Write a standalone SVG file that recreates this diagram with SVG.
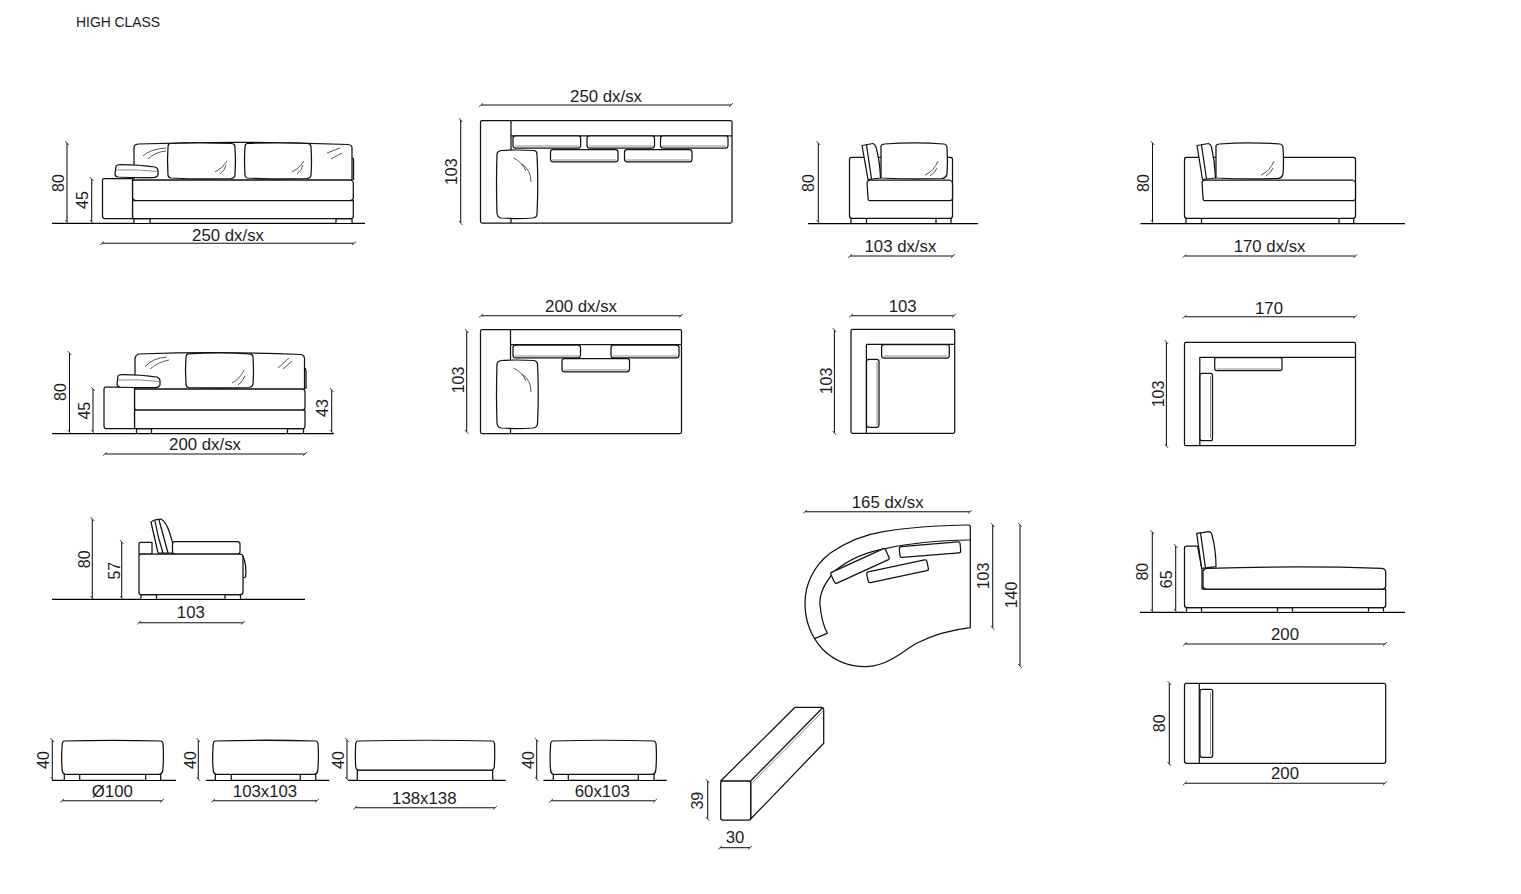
<svg xmlns="http://www.w3.org/2000/svg" width="1521" height="894" viewBox="0 0 1521 894">
<style>
text{font-family:"Liberation Sans",Arial,sans-serif;font-size:16.8px;fill:#1c1c1c}
.m{text-anchor:middle}
.r{font-size:16px}
.s{fill:#fff;stroke:#111;stroke-width:1.25;stroke-linejoin:round}
.n{fill:none;stroke:#111;stroke-width:1.25;stroke-linejoin:round}
.g{fill:none;stroke:#8c8c8c;stroke-width:1}
.c{fill:none;stroke:#444;stroke-width:.9}
.d{fill:none;stroke:#111;stroke-width:1.05;marker-start:url(#t);marker-end:url(#t)}
.f{fill:none;stroke:#000;stroke-width:1.25}
</style>
<defs>
<marker id="t" markerUnits="userSpaceOnUse" markerWidth="10" markerHeight="10" refX="5" refY="5" orient="auto" overflow="visible"><path d="M3 6.800L7 3.200" fill="none" stroke="#333" stroke-width=".9"/></marker>
</defs>
<rect width="1521" height="894" fill="#fff"/>
<text x="76" y="27" style="font-size:13.900px">HIGH CLASS</text>

<g id="connectors">
<path class="d" d="M67 143V222"/><path class="d" d="M91.700 179V222"/><path class="d" d="M102 243.300H354"/>
<path class="d" d="M481 105H731"/><path class="d" d="M460.700 120V223"/>
<path class="d" d="M818.300 143V222"/><path class="d" d="M850 256H953"/>
<path class="d" d="M1152.500 143V222"/><path class="d" d="M1184.500 256H1355.500"/>
<path class="d" d="M69.500 353V432"/><path class="d" d="M93 389V432"/><path class="d" d="M331.700 390V432"/><path class="d" d="M105 454H305"/>
<path class="d" d="M481 315.700H681"/><path class="d" d="M466.700 331V432"/>
<path class="d" d="M851 315.700H954"/><path class="d" d="M834.400 330V433"/>
<path class="d" d="M1184.500 316.700H1355"/><path class="d" d="M1166.400 342V446"/>
<path class="d" d="M92.300 519V598"/><path class="d" d="M121.700 542V598"/><path class="d" d="M139 622.700H243"/>
<path class="d" d="M805 511.700H970"/><path class="d" d="M992.700 525V628"/><path class="d" d="M1020 525V666"/>
<path class="d" d="M1152.300 532V611"/><path class="d" d="M1175.700 546V611"/><path class="d" d="M1185 644H1385"/>
<path class="d" d="M1169.300 683V764"/><path class="d" d="M1185 783.300H1385"/>
<path class="d" d="M52.300 740V779"/><path class="d" d="M62 800.700H162"/>
<path class="d" d="M198.300 740V779"/><path class="d" d="M213 800.700H317"/>
<path class="d" d="M347 740V779"/><path class="d" d="M355 807.700H495"/>
<path class="d" d="M536.700 740V779"/><path class="d" d="M551 800.700H655"/>
<path class="d" d="M707.700 781V819"/><path class="d" d="M720 847.700H750"/>
</g>

<g id="sofa-250-side">
<path class="f" d="M52 223.300H365"/>
<path class="s" d="M134 223V218.500H150V223M336 223V218.500H352V223"/>
<path class="s" d="M134 180V147Q134.500 144 138 144Q240 140.500 348 144.500Q352 145 352 148V180Z"/>
<path class="n" d="M352 158Q354 158 353.500 162V180"/>
<path class="s" d="M132.500 180H350Q353.300 180 353.300 183V198Q353.300 200 350 200.500H135.500Q132.500 200 132.500 197Z"/>
<path class="s" d="M132.500 200.500H353.300V216Q353.300 218.500 351 218.500H132.500Z"/>
<path class="s" d="M104 178.500H132.500V218.500H105Q102.500 218.500 102.500 216V180Q102.500 178.500 104 178.500Z"/>
<path class="s" d="M170 143.500Q200 142 232 143.500Q235 144 235 147Q236 162 235 175Q235 178 231 178.500Q200 179.500 171 178Q168 177.500 168 175Q167 160 168 147Q168 144 170 143.500Z"/>
<path class="s" d="M247 143.500Q278 142 308 143.500Q311 144 311 147Q312 162 311 175Q311 178 307 178.500Q278 179.500 247 178Q245 177.500 245 175Q244 160 245 147Q245 144 247 143.500Z"/>
<path class="s" d="M116 166Q117 164.500 120 164.500Q140 164.500 155 167Q158 168 158 171V175Q157 177.500 153 177.500Q135 178 118 177Q115 176.500 115 174Z"/>
<path class="g" d="M116 170Q138 169 157 171.500"/>
<path class="c" d="M143 156Q150 149 166 148M148 159Q155 152 166 151M215 172Q223 168 227 161M220 174Q225 170 226 165M292 172Q300 168 304 161M297 174Q302 170 303 165M327 153L340 148M331 159L342 153"/>
</g>

<g id="sofa-250-top">
<rect class="s" x="480.500" y="120.500" width="251.500" height="102.500" rx="1.500"/>
<path class="n" d="M511 120.500V223M511 135.800H732"/>
<rect class="s" x="513" y="135.800" width="67.700" height="12.300" rx="2.500"/>
<rect class="s" x="587" y="135.800" width="67.500" height="12.300" rx="2.500"/>
<rect class="s" x="660.500" y="135.800" width="67.500" height="12.300" rx="2.500"/>
<rect class="s" x="550.500" y="149.500" width="67.500" height="12.300" rx="2.500"/>
<rect class="s" x="624.500" y="149.500" width="67.500" height="12.300" rx="2.500"/>
<path class="g" d="M515 146H579M589 146H653M662 146H726M552 160H616M626 160H690"/>
<path class="s" d="M501 150.500Q516 149.500 534 150.500Q537 151 537 154Q538.500 184 537 214Q537 217.500 533 218Q516 219 501 218Q497.500 217.500 497 213Q496 184 497 154Q497.500 151 501 150.500Z"/>
<path class="c" d="M513.500 158Q522 162 526 171M522 164Q531 170 531 182"/>
</g>

<g id="sofa-103-side">
<path class="f" d="M808 223.700H978"/>
<path class="s" d="M851 223V218.300H866.500V223M936 223V218.300H951V223"/>
<path class="s" d="M851.500 157.300H950.500Q952.500 157.300 952.500 159.500V216Q952.500 218.300 950 218.300H852Q849.500 218.300 849.500 216V159.500Q849.500 157.300 851.500 157.300Z"/>
<path class="s" d="M881 145.500Q882 144 884 144Q915 141.500 944 144Q947 144.500 947 148Q948 162 947 174Q946 178 942 178.500Q912 179.500 881 178Z"/>
<path class="s" d="M862 145.500L873 143.500Q875 144 876 147Q880 162 880.500 178L868 179.500Z"/>
<path class="n" d="M866.500 145L871.500 179"/>
<path class="s" d="M867 182.500Q867.500 180 870 180H949Q952.500 180.500 952.500 184V198Q952.500 200.500 950 200.500H869Q868 200 868 198Z"/>
<path class="c" d="M925 175Q934 171 938 161M930 176Q935 173 937 168"/>
</g>

<g id="sofa-170-side">
<path class="f" d="M1140.500 223.700H1405"/>
<path class="s" d="M1186 223V218.300H1201.500V223M1339 223V218.300H1353.700V223"/>
<path class="s" d="M1186.500 157.300H1353.500Q1355.500 157.300 1355.500 159.500V216Q1355.500 218.300 1353 218.300H1187Q1184.500 218.300 1184.500 216V159.500Q1184.500 157.300 1186.500 157.300Z"/>
<path class="s" d="M1216 145.500Q1217 144 1219 144Q1250 141.500 1280 144Q1283 144.500 1283 148Q1284 162 1283 174Q1282 178 1278 178.500Q1247 179.500 1216 178Z"/>
<path class="s" d="M1197 145.500L1208.500 143.500Q1210.500 144 1211.500 147Q1215 162 1215.500 178L1202.500 179.500Z"/>
<path class="n" d="M1201.500 145L1206.500 179"/>
<path class="s" d="M1202 182.500Q1202.500 180 1205 180H1352Q1355.500 180.500 1355.500 184V198Q1355.500 200.500 1353 200.500H1204Q1203 200 1203 198Z"/>
<path class="c" d="M1261 175Q1270 171 1274 161M1266 176Q1271 173 1273 168"/>
</g>

<g id="sofa-200-side">
<path class="f" d="M52 433.700H334"/>
<path class="s" d="M136.500 433V428.500H151.500V433M287.500 433V428.500H303.500V433"/>
<path class="s" d="M135 389V358Q136 354.500 139 354Q220 351 301 354.500Q304 355 304.500 358V389Z"/>
<path class="n" d="M304.500 368Q306 368 306 372V389"/>
<path class="s" d="M134.500 389H302Q305 389.500 305 392V407Q305 410 302 410H136Q134.500 409.500 134.500 407Z"/>
<path class="s" d="M134.500 410H305V426Q305 428.500 303 428.500H134.500Z"/>
<path class="s" d="M106 387H134.500V428.500H106Q104 428.500 104 426V389Q104 387 106 387Z"/>
<path class="s" d="M188 353.800Q219 352 250 353.800Q253 354.500 253 357Q254 372 253 384Q252.500 387 249 387.500Q219 388.500 189 387.500Q186 387 186 384Q185 370 186 357Q186 354.500 188 353.800Z"/>
<path class="s" d="M118 376Q119 374.500 122 374.500Q142 374.500 157 377Q160 378 160 381V385Q159 387.500 155 387.500Q137 388 120 387Q117 386.500 117 384Z"/>
<path class="g" d="M118 380Q140 379 159 381.500"/>
<path class="c" d="M145 367Q152 358 167 357M150 369Q158 362 169 360M232 383Q240 379 244 370M238 385Q243 381 245 376M278 368L289 358M283 369L292 361"/>
</g>

<g id="sofa-200-top">
<rect class="s" x="480.500" y="329.500" width="201" height="104" rx="1.500"/>
<path class="n" d="M510.500 329.500V433.500M510.500 344.500H681.500"/>
<rect class="s" x="513" y="345" width="67.500" height="12.800" rx="2.500"/>
<rect class="s" x="611" y="345" width="68" height="12.800" rx="2.500"/>
<rect class="s" x="562" y="358.500" width="67.500" height="13.300" rx="2.500"/>
<path class="g" d="M515 356H579M613 356H677M564 370H628"/>
<path class="s" d="M501 360.500Q516 359.500 534 360.500Q537 361 537.500 364Q539 394 537.500 424Q537 427.500 533 428Q516 429 501 428Q497.500 427.500 497 423Q496 394 497 364Q497.500 361 501 360.500Z"/>
<path class="c" d="M513.500 368Q522 372 526 381M522 374Q531 380 531 392"/>
</g>

<g id="sofa-103-top">
<rect class="s" x="851" y="329.300" width="103.700" height="104" rx="1.500"/>
<path class="n" d="M954.700 344.300H866.400V433"/>
<rect class="s" x="881.600" y="344.500" width="67.700" height="13.500" rx="2.500"/>
<path class="g" d="M884 356H947"/>
<rect class="s" x="866.500" y="359.300" width="12.500" height="68" rx="2.500"/>
<path class="g" d="M877 362V425"/>
</g>

<g id="sofa-170-top">
<rect class="s" x="1184.500" y="342.300" width="171" height="103.400" rx="1.500"/>
<path class="n" d="M1355.500 357.300H1199.800V445"/>
<rect class="s" x="1214.700" y="357.500" width="67.300" height="13" rx="2"/>
<path class="g" d="M1217 369H1280"/>
<rect class="s" x="1200" y="373.300" width="12.500" height="67.400" rx="2"/>
<path class="g" d="M1210.500 376V438"/>
</g>

<g id="sofa-side-section">
<path class="f" d="M52 599.300H305"/>
<path class="s" d="M141 598.700V594.700H156.500V598.700M225 598.700V594.700H240.500V598.700"/>
<path class="n" d="M243 556Q247 566 245.500 577L243 578"/>
<path class="s" d="M139 554V544Q139 542.300 141 542.300H152V554Z"/>
<path class="s" d="M151 522Q155 519 161 519Q166 522 169 531Q173 543 175 553H158Z"/>
<path class="n" d="M155 521Q158 538 163 553M159 520Q164 538 168 553"/>
<rect class="s" x="172.500" y="541.500" width="67.500" height="12.500" rx="2.500"/>
<path class="s" d="M141 554H240Q243 554 243 557V592Q243 594.700 240 594.700H141Q139 594.700 139 592V556Q139 554 141 554Z"/>
</g>

<g id="sofa-curved-top">
<path class="s" d="M968.300 525C935 525.500 905 528 883.300 531.700C862 535 845 543 830 553.300C815 565 805 583 805 603.300C805 622 812 638 823.300 650C835 661 850 667 866.700 666.700C876 666 883 664 890 660C900 655 908 648 916.700 643.300C933 635 950 630 970.300 627.700V527Q970.300 525 968.300 525Z"/>
<path class="n" d="M970.300 540C940 540.500 910 543 886.700 548.300C870 551 851 558 836 570C825 582 819 594 820 605C821 616 823 625 827.300 633.300L815 638.300"/>
<rect class="s" x="899.500" y="544.200" width="61" height="11" rx="2" transform="rotate(-4.600 930 549.700)"/>
<rect class="s" x="866.800" y="565.800" width="61.500" height="11" rx="2" transform="rotate(-12 897.500 571.300)"/>
<rect class="s" x="830" y="560" width="60" height="12" rx="2" transform="rotate(-24.500 860 566)"/>
</g>

<g id="chaise-side">
<path class="f" d="M1140 612.300H1405"/>
<path class="s" d="M1186.500 611.700V607.700H1201.500V611.700M1277.500 611.700V607.700H1292.500V611.700M1368.500 611.700V607.700H1383.500V611.700"/>
<path class="s" d="M1186.500 546H1197.500L1202 570V589H1385.700V605Q1385.700 607.700 1383 607.700H1187Q1184.500 607.700 1184.500 605V548Q1184.500 546 1186.500 546Z"/>
<path class="s" d="M1196.700 533.300L1209.300 531.700Q1211 532 1212 535Q1216 550 1216 566.700L1201.700 568.300Z"/>
<path class="n" d="M1200.500 533L1205.500 568"/>
<path class="s" d="M1203 571Q1204 568.500 1207 568.300Q1300 565.500 1382 568.300Q1385.700 569 1385.700 572V586Q1385.700 589 1382 589H1206Q1203 588.500 1203 586Z"/>
</g>

<g id="chaise-top">
<rect class="s" x="1184.500" y="683.300" width="201.200" height="80" rx="2"/>
<path class="n" d="M1199.300 683.300V763.300"/>
<rect class="s" x="1200" y="689.300" width="12.700" height="68" rx="2"/>
<path class="g" d="M1210.500 692V755"/>
</g>

<g id="pouf-100">
<path class="f" d="M52 780.300H176"/>
<path class="s" d="M64.300 780V774.300H79.700V780M145.700 780V774.300H160.700V780"/>
<path class="s" d="M64 741Q112 739.500 161 741Q162.700 741.500 163 743.500Q164 758 162.700 771Q162 774.300 159 774.300H66Q63 774.300 62.300 771Q61 758 62.300 743.500Q62.500 741.500 64 741Z"/>
</g>
<g id="pouf-103">
<path class="f" d="M205.700 780.300H329.300"/>
<path class="s" d="M215.300 780V774.300H231.300V780M300.300 780V774.300H315.700V780"/>
<path class="s" d="M215 741Q265 739.500 316 741Q317.700 741.500 318 743.500Q319 758 317.700 771Q317 774.300 314 774.300H217Q214 774.300 213.300 771Q212 758 213.300 743.500Q213.500 741.500 215 741Z"/>
</g>
<g id="pouf-138">
<path class="f" d="M348.300 780.300H505.700"/>
<path class="s" d="M357.300 780V770H492.700V780"/>
<path class="s" d="M357.500 741Q425 739.500 492.500 741Q494.300 741.500 494.500 743.500Q495 756 494.300 767Q493.700 770 491 770H359Q356.300 770 355.700 767Q355 756 355.700 743.500Q356 741.500 357.500 741Z"/>
</g>
<g id="pouf-60">
<path class="f" d="M543.300 780.300H666.700"/>
<path class="s" d="M553.300 780V774.300H568.300V780M638.300 780V774.300H654V780"/>
<path class="s" d="M552.500 741Q603 739.500 654 741Q655.700 741.500 656 743.500Q657 758 655.700 771Q655 774.300 652 774.300H554Q551.500 774.300 550.700 771Q549.500 758 550.700 743.500Q551 741.500 552.500 741Z"/>
</g>
<g id="beam">
<path class="s" d="M720.700 781L795 707.300H821.700Q823.700 707.500 823.700 709.500V743.300L750.700 819V781Z"/>
<path class="n" d="M750.700 781L822.500 708"/>
<path class="g" d="M752.500 782.500L823 711"/>
<rect class="s" x="720.700" y="781" width="30" height="39" rx="2"/>
</g>

<g id="labels">
<text class="m" x="228" y="240.700">250 dx/sx</text>
<text class="m r" transform="translate(64 183) rotate(-90)">80</text>
<text class="m r" transform="translate(88 200) rotate(-90)">45</text>
<text class="m" x="606" y="101.700">250 dx/sx</text>
<text class="m r" transform="translate(457 171.700) rotate(-90)">103</text>
<text class="m" x="900.400" y="251.700">103 dx/sx</text>
<text class="m r" transform="translate(814.400 183) rotate(-90)">80</text>
<text class="m" x="1269.600" y="251.700">170 dx/sx</text>
<text class="m r" transform="translate(1148.500 183) rotate(-90)">80</text>
<text class="m" x="205" y="450">200 dx/sx</text>
<text class="m r" transform="translate(66 392) rotate(-90)">80</text>
<text class="m r" transform="translate(90 410.700) rotate(-90)">45</text>
<text class="m r" transform="translate(328 408) rotate(-90)">43</text>
<text class="m" x="581" y="311.700">200 dx/sx</text>
<text class="m r" transform="translate(464 380) rotate(-90)">103</text>
<text class="m" x="902.700" y="311.700">103</text>
<text class="m r" transform="translate(831.800 381) rotate(-90)">103</text>
<text class="m" x="1269" y="314">170</text>
<text class="m r" transform="translate(1163.500 394) rotate(-90)">103</text>
<text class="m r" transform="translate(90 559.300) rotate(-90)">80</text>
<text class="m r" transform="translate(120 570.700) rotate(-90)">57</text>
<text class="m" x="190.800" y="618.300">103</text>
<text class="m" x="887.700" y="507.800">165 dx/sx</text>
<text class="m r" transform="translate(989.300 576) rotate(-90)">103</text>
<text class="m r" transform="translate(1016.700 595) rotate(-90)">140</text>
<text class="m r" transform="translate(1148.300 571.700) rotate(-90)">80</text>
<text class="m r" transform="translate(1171.700 579.300) rotate(-90)">65</text>
<text class="m" x="1285" y="640">200</text>
<text class="m r" transform="translate(1165 723.300) rotate(-90)">80</text>
<text class="m" x="1285" y="779.300">200</text>
<text class="m r" transform="translate(49.300 760) rotate(-90)">40</text>
<text class="m" x="112.300" y="796.700">Ø100</text>
<text class="m r" transform="translate(195.700 760) rotate(-90)">40</text>
<text class="m" x="265" y="796.700">103x103</text>
<text class="m r" transform="translate(344 760) rotate(-90)">40</text>
<text class="m" x="424.300" y="804">138x138</text>
<text class="m r" transform="translate(534 760) rotate(-90)">40</text>
<text class="m" x="602.300" y="796.700">60x103</text>
<text class="m r" transform="translate(702.700 800.700) rotate(-90)">39</text>
<text class="m" x="735" y="842.700">30</text>
</g>
</svg>
